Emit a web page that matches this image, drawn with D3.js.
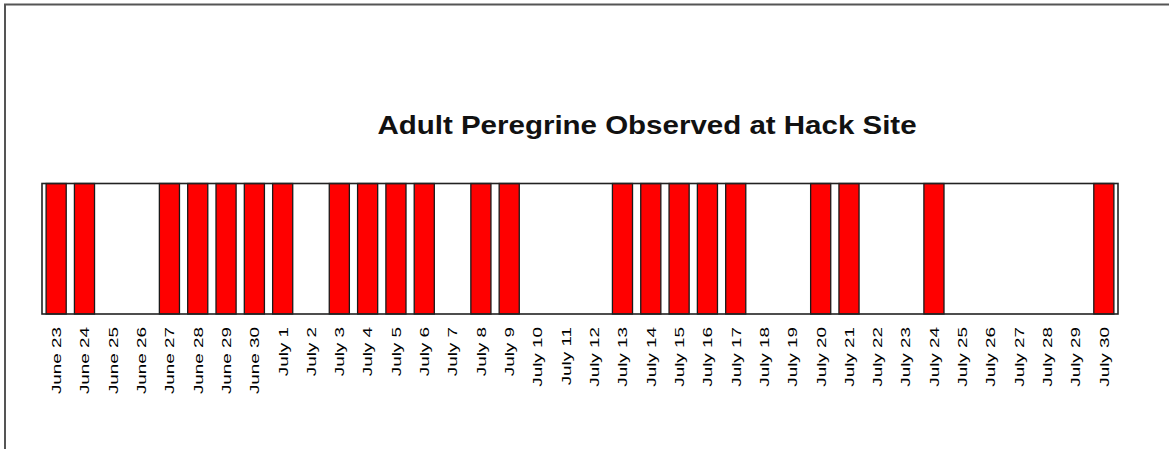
<!DOCTYPE html>
<html>
<head>
<meta charset="utf-8">
<script src="https://cdn.jsdelivr.net/npm/d3@7"></script>
<style>
  html, body { margin: 0; padding: 0; background: #fff; }
  svg { display: block; font-family: "Liberation Sans", Arial, sans-serif; }
</style>
</head>
<body>
<script>
// days of the hack-site watch, June 23 - July 30
var days = ["June 23","June 24","June 25","June 26","June 27","June 28","June 29","June 30",
  "July 1","July 2","July 3","July 4","July 5","July 6","July 7","July 8","July 9","July 10",
  "July 11","July 12","July 13","July 14","July 15","July 16","July 17","July 18","July 19","July 20",
  "July 21","July 22","July 23","July 24","July 25","July 26","July 27","July 28","July 29","July 30"];
// 1 = adult seen that day
var observed = [1,1,0,0,1,1,1,1,
  1,0,1,1,1,1,0,1,1,0,
  0,0,1,1,1,1,1,0,0,1,
  1,0,0,1,0,0,0,0,0,1];
var title = "Adult Peregrine Observed at Hack Site";

var width = 1169, height = 449;
var plot = {left: 42, right: 1118, top: 183.5, bottom: 314};

var svg = d3.select("body").append("svg")
    .attr("width", width)
    .attr("height", height);

// outer frame (only top and left edges show in the picture)
svg.append("path")
    .attr("d", "M5," + height + " V4.5 H" + width)
    .attr("fill", "none")
    .attr("stroke", "#555")
    .attr("stroke-width", 2);

var x = d3.scaleBand()
    .domain(days)
    .range([plot.left, plot.right])
    .paddingInner(0.29)
    .paddingOuter(0.145);

var y = d3.scaleLinear()
    .domain([0, 1])
    .range([plot.bottom, plot.top]);

var chart_data = days.map(function(d, i) { return {day: d, seen: observed[i]}; });

svg.selectAll("rect.bar")
    .data(chart_data.filter(function(d) { return d.seen > 0; }))
  .enter().append("rect")
    .attr("class", "bar")
    .attr("x", function(d) { return x(d.day); })
    .attr("width", x.bandwidth())
    .attr("y", function(d) { return y(d.seen); })
    .attr("height", function(d) { return y(0) - y(d.seen); })
    .attr("fill", "#ff0000")
    .attr("stroke", "#1a1a1a")
    .attr("stroke-width", 1.3);

svg.append("rect")
    .attr("x", plot.left)
    .attr("y", plot.top)
    .attr("width", plot.right - plot.left)
    .attr("height", plot.bottom - plot.top)
    .attr("fill", "none")
    .attr("stroke", "#222")
    .attr("stroke-width", 1.6);

// vertical day labels (stretched along the text like the original)
var xAxis = d3.axisBottom(x).tickSize(0).tickPadding(0);
var gx = svg.append("g")
    .attr("transform", "translate(0," + plot.bottom + ")")
    .call(xAxis);
gx.select(".domain").remove();
gx.selectAll(".tick text")
    .attr("y", 0)
    .attr("dy", null)
    .attr("transform", "translate(0,13) rotate(-90) scale(1.45,1)")
    .attr("text-anchor", "end")
    .attr("dominant-baseline", "central")
    .attr("font-size", 13)
    .attr("font-family", "\"Liberation Sans\", Arial, sans-serif")
    .attr("fill", "#000");

svg.append("text")
    .attr("transform", "translate(647,134) scale(1.18,1)")
    .attr("text-anchor", "middle")
    .attr("font-size", 25)
    .attr("font-weight", "bold")
    .attr("fill", "#111")
    .text(title);
</script>
</body>
</html>
